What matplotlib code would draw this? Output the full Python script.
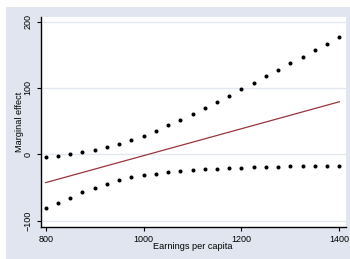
import matplotlib
matplotlib.use('Agg')
import matplotlib.pyplot as plt
from matplotlib.patches import Rectangle

plt.rcParams['font.family'] = ['Liberation Sans', 'DejaVu Sans']

# earnings per capita grid
earnings = [800, 825, 850, 875, 900, 925, 950, 975, 1000, 1025, 1050, 1075, 1100,
            1125, 1150, 1175, 1200, 1225, 1250, 1275, 1300, 1325, 1350, 1375, 1400]
# upper and lower confidence bounds
upper = [-3.6, -2.1, 0.5, 3.0, 6.0, 10.5, 15.5, 21.5, 28.0, 35.5, 43.6, 51.7, 60.7,
         69.7, 78.8, 88.3, 98.2, 108.0, 117.6, 127.2, 137.3, 147.0, 157.0, 167.0, 176.7]
lower = [-81.3, -72.9, -65.4, -56.8, -50.3, -44.3, -39.2, -34.6, -31.6, -29.2, -26.7, -24.7, -23.2,
         -22.1, -21.6, -20.6, -20.2, -19.8, -19.3, -19.3, -18.2, -17.7, -17.2, -17.2, -17.2]
# marginal effect (linear)
effect_x = [800, 1400]
effect_y = [-42.7, 79.2]

xticks = [800, 1000, 1200, 1400]
yticks = [-100, 0, 100, 200]

bg = '#E0E5EF'

fig = plt.figure(figsize=(3.5, 2.59), dpi=100, facecolor='white')
fig.add_artist(Rectangle((6 / 350, 0), 1, 1 - 7.3 / 259, transform=fig.transFigure,
                         facecolor=bg, edgecolor='none', zorder=-10))

ax = fig.add_axes([40.7 / 350, 32.3 / 259, 305 / 350, 210 / 259])
ax.set_zorder(1)
ax.set_facecolor('white')

for y in yticks:
    ax.axhline(y, color='#E3E7F0', linewidth=1.0, zorder=1)

ax.plot(effect_x, effect_y, color='#9A343C', linewidth=0.9, zorder=2)
ax.plot(earnings, upper, 'o', color='black', markersize=2.9, markeredgewidth=0, zorder=3)
ax.plot(earnings, lower, 'o', color='black', markersize=2.9, markeredgewidth=0, zorder=3)

ax.set_xlim(789.8, 1413)
ax.set_ylim(-109.2, 207.5)
ax.set_xticks(xticks)
ax.set_yticks(yticks)

for s in ['top', 'right']:
    ax.spines[s].set_visible(False)
for s in ['left', 'bottom']:
    ax.spines[s].set_linewidth(1.0)
    ax.spines[s].set_color('black')

ax.tick_params(axis='both', labelsize=6.5, length=3, width=0.8, pad=3, colors='black')
ax.tick_params(axis='y', labelrotation=90)
for lab in ax.get_yticklabels():
    lab.set_va('center')

ax.set_xlabel('Earnings per capita', fontsize=6.6)
ax.xaxis.label.set_va('center')
ax.xaxis.set_label_coords(0.5, -0.092)
ax.set_ylabel('Marginal effect', fontsize=6.6)
ax.yaxis.label.set_va('center')
ax.yaxis.set_label_coords(-0.068, 0.5)

fig.savefig('out.png', dpi=100, facecolor=fig.get_facecolor())
